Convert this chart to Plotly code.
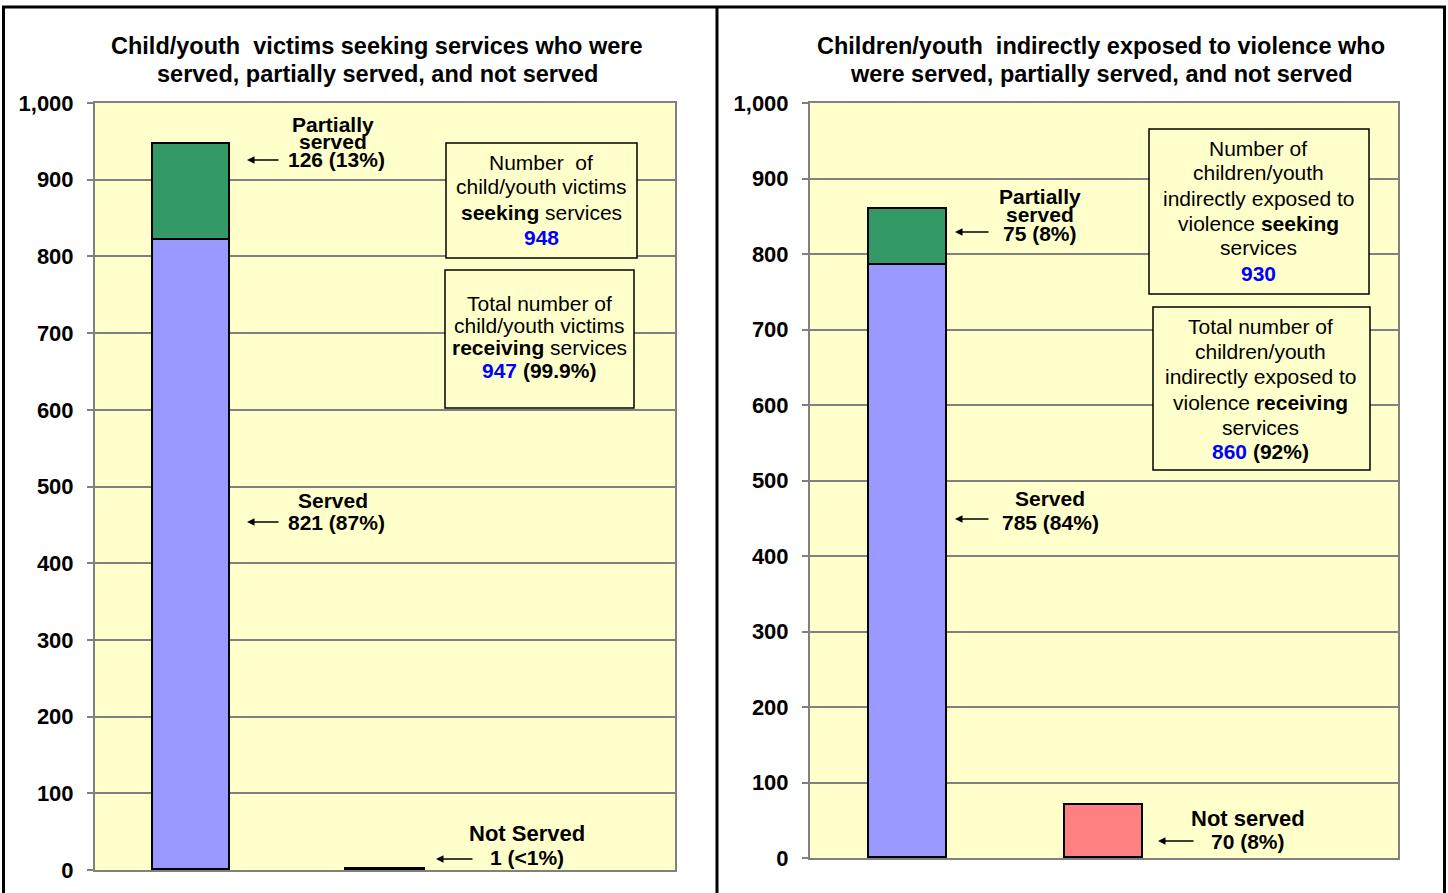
import plotly.graph_objects as go

W, H = 1448, 893

# ---- data ----
categories = ["Served / partially served", "Not served", ""]
left_served = [821]
left_partial = [126]
left_not_served = [1]
right_served = [785]
right_partial = [75]
right_not_served = [70]
y_ticks = list(range(0, 1001, 100))

C_SERVED = "#9999FF"
C_PARTIAL = "#339966"
C_NOT = "#FF8080"
BG = "#FFFFCC"
GRID = "#808080"
FONT = "Arial, Liberation Sans, sans-serif"

def px(x):
    return x / W

def py(y):
    return 1 - y / H

fig = go.Figure()
line = dict(color="black", width=1.8)
bw = 0.4
# left panel
fig.add_trace(go.Bar(x=[categories[0]], y=left_served, marker=dict(color=C_SERVED, line=line), width=bw, xaxis="x", yaxis="y", showlegend=False))
fig.add_trace(go.Bar(x=[categories[0]], y=left_partial, marker=dict(color=C_PARTIAL, line=line), width=bw, xaxis="x", yaxis="y", showlegend=False))
fig.add_trace(go.Bar(x=[categories[1]], y=left_not_served, marker=dict(color="black", line=dict(color="black", width=3.5)), width=bw, xaxis="x", yaxis="y", showlegend=False))
# right panel
fig.add_trace(go.Bar(x=[categories[0]], y=right_served, marker=dict(color=C_SERVED, line=line), width=bw, xaxis="x2", yaxis="y2", showlegend=False))
fig.add_trace(go.Bar(x=[categories[0]], y=right_partial, marker=dict(color=C_PARTIAL, line=line), width=bw, xaxis="x2", yaxis="y2", showlegend=False))
fig.add_trace(go.Bar(x=[categories[1]], y=right_not_served, marker=dict(color=C_NOT, line=line), width=bw, xaxis="x2", yaxis="y2", showlegend=False))

xax = dict(type="category", categoryorder="array", categoryarray=categories, range=[-0.5, 2.5],
           showticklabels=False, ticks="", showgrid=False, showline=True, mirror=True,
           linecolor=GRID, linewidth=2, zeroline=False, fixedrange=True, automargin=False)
yax = dict(range=[0, 1000], tickvals=y_ticks, tickformat=",", showgrid=True, gridcolor=GRID, gridwidth=1.5,
           showline=True, mirror=True, linecolor=GRID, linewidth=2, ticks="outside", ticklen=6,
           tickcolor=GRID, tickwidth=2, zeroline=False, ticklabelstandoff=9, automargin=False,
           tickfont=dict(family=FONT, size=22, color="black", weight="bold"))

fig.update_layout(
    template="none",
    width=W, height=H, autosize=False, barmode="stack", bargap=0,
    paper_bgcolor="white", plot_bgcolor=BG,
    margin=dict(l=0, r=0, t=0, b=0, pad=0, autoexpand=False),
    xaxis=dict(domain=[px(95), px(675)], anchor="y", **xax),
    yaxis=dict(domain=[py(870), py(103)], anchor="x", **yax),
    xaxis2=dict(domain=[px(810), px(1398)], anchor="y2", **xax),
    yaxis2=dict(domain=[py(858), py(103)], anchor="x2", **yax),
    font=dict(family=FONT, color="black"),
)

ann = []
shapes = []

def label(x, y, text, size=21, bold=True):
    t = f"<b>{text}</b>" if bold else text
    ann.append(dict(x=px(x), y=py(y), xref="paper", yref="paper", text=t, showarrow=False,
                    xanchor="center", yanchor="middle", font=dict(family=FONT, size=size, color="black")))

def arrow(x_tip, y, length):
    ann.append(dict(x=px(x_tip), y=py(y), xref="paper", yref="paper", text="", showarrow=True,
                    ax=length, ay=0, axref="pixel", ayref="pixel", arrowhead=2, arrowsize=1,
                    arrowwidth=1.5, arrowcolor="black"))

def box(x0, x1, y0, y1, cx, lines, ys):
    shapes.append(dict(type="rect", xref="paper", yref="paper", x0=px(x0), x1=px(x1), y0=py(y1), y1=py(y0),
                       fillcolor=BG, line=dict(color="black", width=1.5), layer="above"))
    for t, yy in zip(lines, ys):
        label(cx, yy, t, size=21, bold=False)

# titles
for cx, l1, l2 in [(377, "Child/youth  victims seeking services who were", "served, partially served, and not served"),
                   (1101, "Children/youth  indirectly exposed to violence who", "were served, partially served, and not served")]:
    label(cx, 46, l1, size=23.5)
    label(cx, 74, l2, size=23.5)

# left labels
label(333, 125, "Partially")
label(333, 141, "served")
label(336, 160, f"{left_partial[0]} (13%)")
arrow(247, 160, 33)
label(333, 500, "Served")
label(336, 522, f"{left_served[0]} (87%)")
arrow(247, 522, 33)
label(527, 833, "Not Served", size=22)
label(527, 857, f"{left_not_served[0]} (&lt;1%)")
arrow(436, 859, 38)

# right labels
label(1040, 197, "Partially")
label(1040, 214, "served")
label(1040, 233, f"{right_partial[0]} (8%)")
arrow(955, 232, 35)
label(1050, 498, "Served")
label(1050, 522, f"{right_served[0]} (84%)")
arrow(955, 519, 35)
label(1248, 818, "Not served", size=22)
label(1248, 841, f"{right_not_served[0]} (8%)")
arrow(1158, 841, 37)

blue = lambda s: f"<span style='color:#0000FF'><b>{s}</b></span>"
seek_l = sum(left_served + left_partial + left_not_served)
recv_l = sum(left_served + left_partial)
seek_r = sum(right_served + right_partial + right_not_served)
recv_r = sum(right_served + right_partial)

box(446, 637, 143, 258, 541,
    ["Number  of", "child/youth victims", "<b>seeking</b> services", blue(seek_l)],
    [162, 186, 212, 237])
box(445, 634, 270, 408, 539,
    ["Total number of", "child/youth victims", "<b>receiving</b> services", f"{blue(recv_l)} <b>(99.9%)</b>"],
    [303, 325, 348, 370])
box(1149, 1369, 129, 294, 1258,
    ["Number of", "children/youth", "indirectly exposed to", "violence <b>seeking</b>", "services", blue(seek_r)],
    [148, 172, 198, 223, 247, 273])
box(1153, 1370, 307, 470, 1260,
    ["Total number of", "children/youth", "indirectly exposed to", "violence <b>receiving</b>", "services",
     f"{blue(recv_r)} <b>(92%)</b>"],
    [326, 351, 376, 402, 427, 451])

# outer frame
def ln(x0, y0, x1, y1, w=3):
    shapes.append(dict(type="line", xref="paper", yref="paper", x0=px(x0), y0=py(y0), x1=px(x1), y1=py(y1),
                       line=dict(color="black", width=w)))
ln(2, 7, 1446, 7, 3)
ln(3.5, 7, 3.5, 893, 3)
ln(717, 7, 717, 893, 3)
ln(1444.5, 7, 1444.5, 893, 3)

fig.update_layout(annotations=ann, shapes=shapes)
fig.write_html("out.html", config={"displayModeBar": False},
               post_script="document.body.style.margin='0';")
